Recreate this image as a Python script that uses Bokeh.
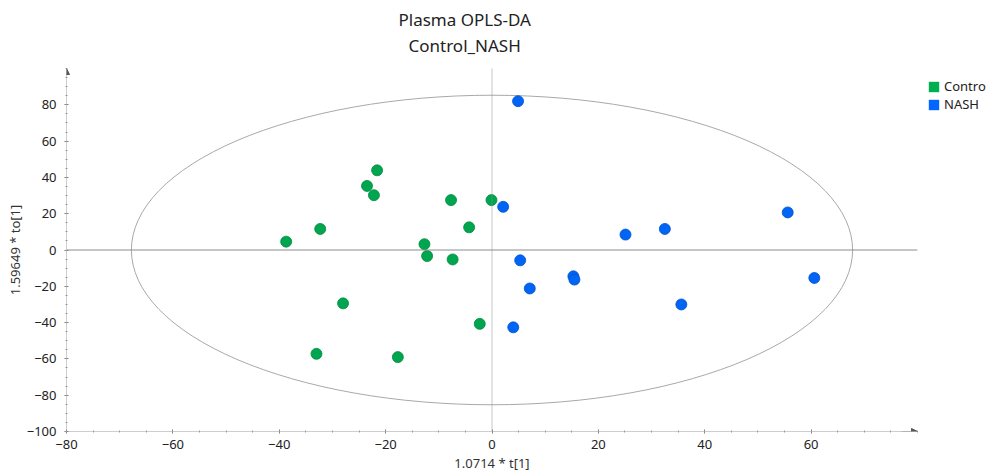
from bokeh.plotting import figure
from bokeh.layouts import row
from bokeh.models import (Legend, LegendItem, Span, Title, Arrow, NormalHead, FixedTicker)
from bokeh.embed import file_html
from bokeh.resources import INLINE

# ---- data ----
control_t = [-38.7, -32.3, -21.6, -23.5, -22.2, -7.7, -0.1, -4.3, -12.7, -12.2, -7.4, -28.0, -33.0, -17.7, -2.3]
control_to = [4.6, 11.6, 43.9, 35.3, 30.2, 27.5, 27.5, 12.5, 3.2, -3.3, -5.2, -29.4, -57.2, -59.0, -40.7]
nash_t = [4.9, 2.1, 25.1, 32.5, 55.6, 5.3, 15.3, 15.5, 7.1, 35.6, 60.6, 4.0]
nash_to = [82.0, 23.8, 8.5, 11.6, 20.7, -5.7, -14.5, -16.3, -21.2, -30.0, -15.4, -42.6]
group_labels = ["Contro", "NASH"]
ellipse_semi_t = 67.8
ellipse_semi_to = 85.3
x_min, x_max = -80, 80
y_min, y_max = -100, 100
x_ticks = [-80, -60, -40, -20, 0, 20, 40, 60]
y_ticks = [-100, -80, -60, -40, -20, 0, 20, 40, 60, 80]

FONT = "Noto Sans"
GREEN_PT, GREEN_LEG = "#00A550", "#00B050"
BLUE_PT, BLUE_LEG = "#0064F5", "#0066FF"
AXIS_C = "#9a9a9a"

p = figure(width=918, height=474, x_range=(x_min, x_max), y_range=(y_min, y_max),
           output_backend="svg", toolbar_location=None,
           min_border_left=66, min_border_right=1, min_border_top=68, min_border_bottom=40)
p.outline_line_color = None
p.xgrid.visible = False
p.ygrid.visible = False

# titles
t2 = Title(text="Control_NASH", align="left", offset=342, vertical_align="bottom", text_font=FONT,
           text_font_size="17px", text_font_style="normal", text_color="#222222", standoff=24)
t1 = Title(text="Plasma OPLS-DA", align="left", offset=332, vertical_align="bottom", text_font=FONT,
           text_font_size="17px", text_font_style="normal", text_color="#222222", standoff=-23)
p.add_layout(t2, "above")
p.add_layout(t1, "above")

# axes
for ax in (p.xaxis[0], p.yaxis[0]):
    ax.axis_line_color = AXIS_C
    ax.axis_line_dash = "1 1"
    ax.major_tick_line_color = "#777777"
    ax.minor_tick_line_color = "#999999"
    ax.major_tick_in = 2
    ax.major_tick_out = 2
    ax.minor_tick_in = 1
    ax.minor_tick_out = 1
    ax.major_label_text_font = FONT
    ax.major_label_text_font_size = "13px"
    ax.major_label_text_color = "#222222"
    ax.axis_label_text_font = FONT
    ax.axis_label_text_font_size = "13px"
    ax.axis_label_text_font_style = "normal"
    ax.axis_label_text_color = "#333333"

p.xaxis.ticker = FixedTicker(ticks=x_ticks, minor_ticks=list(range(x_min, x_max + 1, 5)))
p.yaxis.ticker = FixedTicker(ticks=y_ticks, minor_ticks=list(range(y_min, y_max + 1, 5)))
p.xaxis.major_label_standoff = 6
p.xaxis.axis_label = "1.0714 * t[1]"
p.xaxis.axis_label_standoff = 2
p.yaxis.major_label_standoff = 8
p.yaxis.axis_label = "1.59649 * to[1]"
p.yaxis.axis_label_standoff = 0

# axis arrows
p.add_layout(Arrow(end=NormalHead(size=6, fill_color="#555555", line_color="#555555"),
                   x_start=x_min, y_start=y_max - 3, x_end=x_min, y_end=y_max,
                   line_color=AXIS_C))
p.add_layout(Arrow(end=NormalHead(size=6, fill_color="#555555", line_color="#555555"),
                   x_start=x_max - 3, y_start=y_min, x_end=x_max, y_end=y_min,
                   line_color=AXIS_C))

# zero lines
p.add_layout(Span(location=0, dimension="width", line_color="#8c8c8c", line_width=1))
p.add_layout(Span(location=0, dimension="height", line_color="#8c8c8c", line_width=1,
                  line_dash="1 1"))

# Hotelling ellipse
p.ellipse(x=[0], y=[0], width=[2 * ellipse_semi_t], height=[2 * ellipse_semi_to],
          fill_color=None, line_color="#a8a8a8", line_width=1)

# points
p.scatter(control_t, control_to, size=11, fill_color=GREEN_PT, line_color="#008a3c", line_width=0.8)
p.scatter(nash_t, nash_to, size=11, fill_color=BLUE_PT, line_color="#0050c8", line_width=0.8)

# ---- legend panel (right of the plot) ----
pl = figure(width=69, height=474, x_range=(x_min, x_max), y_range=(y_min, y_max),
            x_axis_type=None, y_axis_type=None, output_backend="svg", toolbar_location=None,
            min_border=0)
pl.outline_line_color = None
# zero-size rects over the same data act as square legend swatches
r_g = pl.rect(control_t, control_to, width=0, height=0, fill_color=GREEN_LEG, line_color=None)
r_b = pl.rect(nash_t, nash_to, width=0, height=0, fill_color=BLUE_LEG, line_color=None)
legend = Legend(items=[LegendItem(label=group_labels[0], renderers=[r_g]),
                       LegendItem(label=group_labels[1], renderers=[r_b])],
                location="top_left", padding=0, margin=9, spacing=0,
                glyph_width=13, glyph_height=13, label_height=13, label_standoff=4,
                label_text_font=FONT, label_text_font_size="13px", label_text_color="#222222",
                border_line_color=None, background_fill_alpha=0)
pl.add_layout(legend, "center")

layout = row(p, pl)
open("out.html", "w").write(file_html(layout, INLINE))
